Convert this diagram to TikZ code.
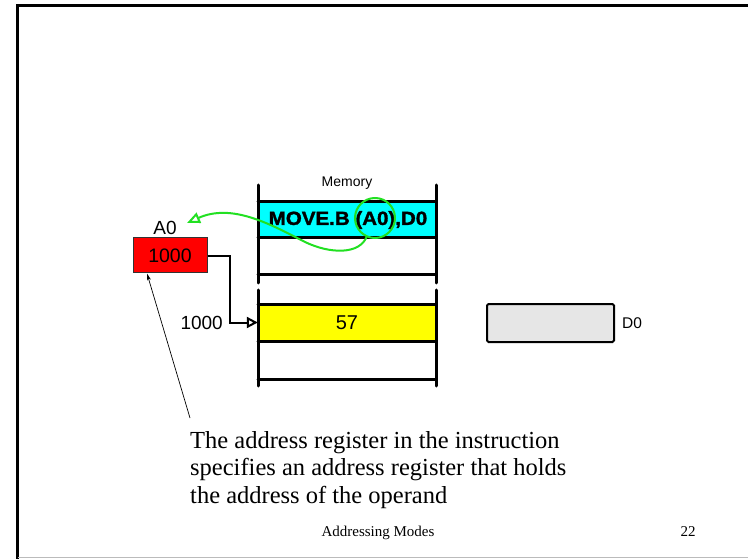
\documentclass[tikz,border=0pt]{standalone}
\usepackage{fontspec}
\setmainfont{Liberation Serif}
\setsansfont{Liberation Sans}
\newfontfamily\heavysans[FakeStretch=1.08, FakeBold=1.6]{Liberation Sans Bold}
\usetikzlibrary{arrows.meta,calc}

\definecolor{cellcyan}{HTML}{00FFFF}
\definecolor{cellyellow}{HTML}{FFFF00}
\definecolor{regred}{HTML}{FF0000}
\definecolor{reggray}{HTML}{E6E6E6}
\definecolor{pointgreen}{HTML}{22E022}
\definecolor{framegray}{HTML}{BBBBBB}

\tikzset{
  memline/.style={line width=3pt, line cap=round},
  memcell/.style={draw=none, minimum width=178pt, minimum height=36pt, inner sep=0pt},
  sanslabel/.style={font=\sffamily\fontsize{19}{22}\selectfont, inner sep=0pt},
  linkarrow/.style={line width=2pt, -{Triangle[open, length=11pt, width=11pt]}},
  notearrow/.style={line width=0.7pt, -{Stealth[length=7pt, width=4pt]}},
  greenarrow/.style={pointgreen, line width=2pt, -{Triangle[open, length=13pt, width=11pt]}},
}

\begin{document}
\begin{tikzpicture}[x=1pt, y=-1pt]
  \useasboundingbox (0,0) rectangle (748,559);

  % slide frame
  \draw[line width=3pt] (17.5,559) -- (17.5,6) -- (748,6);
  \draw[framegray, line width=1.5pt] (17.5,557.5) -- (748,557.5);

  % memory block 1 (instruction)
  \node[font=\sffamily\fontsize{14}{16}\selectfont, inner sep=0pt] (memlabel) at (347,183) {Memory};
  \node[memcell, fill=cellcyan] (instr) at (347,220) {};
  \node[inner sep=0pt, font=\heavysans\fontsize{19}{22}\selectfont] (instrtext) at (348,220)
    {MOVE.B (A0),D0};
  \draw[memline] (258,185) -- (258,283);
  \draw[memline] (436,185) -- (436,283);
  \draw[memline] (258,202) -- (436,202);
  \draw[memline] (258,238) -- (436,238);
  \draw[memline] (258,275) -- (436,275);

  % memory block 2 (operand)
  \node[memcell, fill=cellyellow, minimum height=37pt] (operand) at (347,322.5) {};
  \node[sanslabel, font=\sffamily\fontsize{20}{22}\selectfont] (val) at (347,323) {57};
  \draw[memline] (258,290) -- (258,386);
  \draw[memline] (436,290) -- (436,386);
  \draw[memline] (258,304) -- (436,304);
  \draw[memline] (258,341) -- (436,341);
  \draw[memline] (258,379) -- (436,379);

  % address register A0
  \node[sanslabel] (a0label) at (165,228) {A0};
  \node[draw=black!80, line width=1pt, fill=regred, minimum width=74pt, minimum height=35pt,
        inner sep=0pt, font=\sffamily\fontsize{19.5}{22}\selectfont] (a0) at (170,255.5) {1000};

  % data register D0
  \node[draw, line width=2pt, fill=reggray, rounded corners=1.5pt, minimum width=127pt,
        minimum height=38pt, inner sep=0pt] (d0) at (550.5,323) {};
  \node[font=\sffamily\fontsize{15.5}{17}\selectfont, inner sep=0pt, anchor=west] (d0label)
    at (622,323) {D0};

  % address pointer from A0 to the operand
  \node[sanslabel, anchor=east] (addr) at (223,323) {1000};
  \draw[linkarrow] (a0.east |- 0,256.5) -| (230,322.5) -- (operand.west);

  % green pointer from the operand field to A0
  \coordinate (ring) at (375,218);
  \draw[pointgreen, line width=2pt] (ring) circle[radius=20pt];
  \coordinate (ringfoot) at (367,236);
  \coordinate (a0tip) at (187,223);
  \draw[greenarrow] (ringfoot) .. controls (360,255) and (330,254) .. (305,242)
                               .. controls (270,224) and (232,203) .. (a0tip);

  % explanatory note
  \coordinate (notetail) at (190,418);
  \draw[notearrow] (notetail) -- ([xshift=-23pt]a0.south);
  \node[anchor=north west, align=left, inner sep=0pt,
        font=\rmfamily\fontsize{24.5}{27.5}\selectfont] (note) at (190,431)
    {The address register in the instruction\\
     specifies an address register that holds\\
     the address of the operand};

  % footer
  \node[anchor=base, inner sep=0pt, font=\rmfamily\fontsize{15}{17}\selectfont] (footer) at (378,536)
    {Addressing Modes};
  \node[anchor=base, inner sep=0pt, font=\rmfamily\fontsize{15}{17}\selectfont] (pageno) at (688,536)
    {22};
\end{tikzpicture}
\end{document}
